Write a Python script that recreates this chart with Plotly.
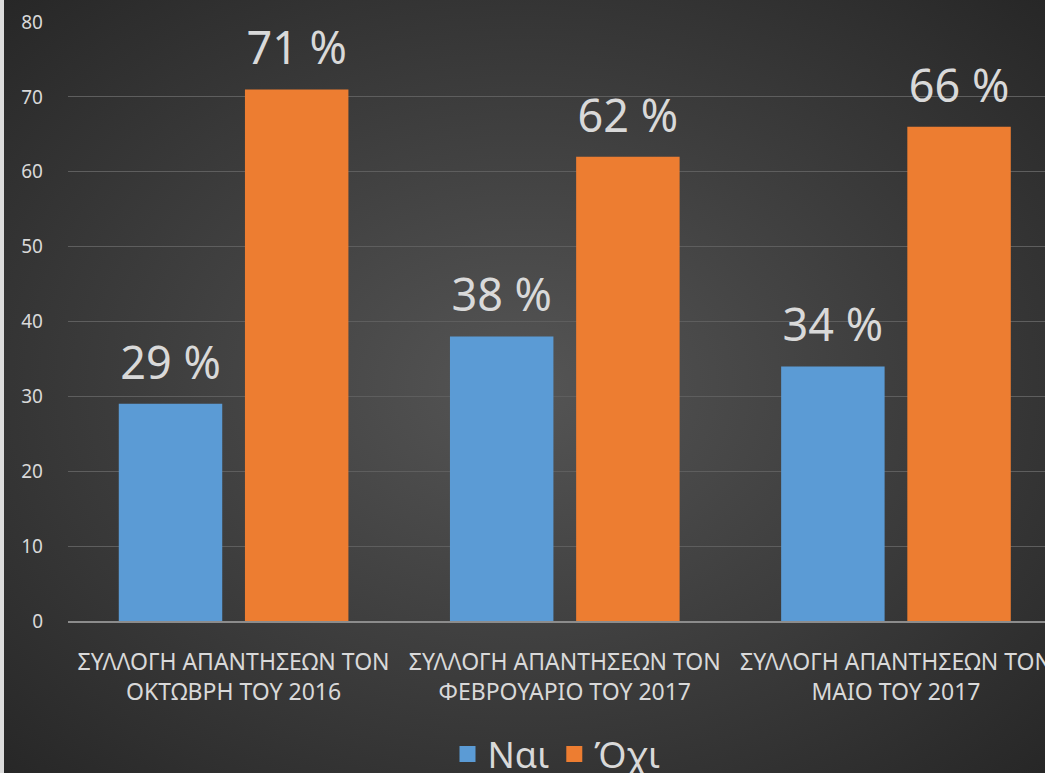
import base64
import plotly.graph_objects as go

categories = [
    "ΣΥΛΛΟΓΗ ΑΠΑΝΤΗΣΕΩΝ ΤΟΝ<br>ΟΚΤΩΒΡΗ ΤΟΥ 2016",
    "ΣΥΛΛΟΓΗ ΑΠΑΝΤΗΣΕΩΝ ΤΟΝ<br>ΦΕΒΡΟΥΑΡΙΟ ΤΟΥ 2017",
    "ΣΥΛΛΟΓΗ ΑΠΑΝΤΗΣΕΩΝ ΤΟΝ<br>ΜΑΙΟ ΤΟΥ 2017",
]
yes_values = [29, 38, 34]
no_values = [71, 62, 66]
yes_name = "Ναι"
no_name = "Όχι"
y_ticks = [0, 10, 20, 30, 40, 50, 60, 70, 80]

W, H = 1045, 773
ML, MR, MT, MB = 68, 0, 22, 152
PW, PH = W - ML - MR, H - MT - MB

bg_svg = f'''<svg xmlns="http://www.w3.org/2000/svg" width="{W}" height="{H}" viewBox="0 0 {W} {H}">
<defs><radialGradient id="g" cx="0.5" cy="0.5" r="0.72">
<stop offset="0" stop-color="#555555"/><stop offset="1" stop-color="#262626"/>
</radialGradient></defs>
<rect x="0" y="0" width="{W}" height="{H}" fill="url(#g)"/>
<rect x="0" y="0" width="4" height="{H}" fill="#dcdcdc"/>
</svg>'''
bg_uri = "data:image/svg+xml;base64," + base64.b64encode(bg_svg.encode("utf-8")).decode()

FONT = "Noto Sans"
TXT = "#d9d9d9"
BLUE = "#5B9BD5"
ORANGE = "#ED7D31"


def label(v):
    return (f"<span style='font-size:45px'>{v} %</span><br>"
            "<span style='color:rgba(0,0,0,0)'>.</span>")


fig = go.Figure()
for name, vals, col in [(yes_name, yes_values, BLUE), (no_name, no_values, ORANGE)]:
    fig.add_trace(go.Bar(
        x=categories, y=vals, name=name, legendgroup=name, showlegend=False,
        marker=dict(color=col, line=dict(width=0)),
        text=[label(v) for v in vals], textposition="outside", constraintext="none",
        textfont=dict(size=14, color=TXT, family=FONT), cliponaxis=False,
    ))
for name, col in [(yes_name, BLUE), (no_name, ORANGE)]:
    fig.add_trace(go.Scatter(
        x=[None], y=[None], mode="markers", name=name, legendgroup=name, showlegend=True,
        marker=dict(symbol="square", size=16, color=col),
    ))

fig.update_layout(
    width=W, height=H,
    margin=dict(l=ML, r=MR, t=MT, b=MB, pad=0, autoexpand=False),
    paper_bgcolor="#2e2e2e",
    plot_bgcolor="rgba(0,0,0,0)",
    font=dict(family=FONT, color=TXT),
    barmode="group", bargap=0.238, bargroupgap=0.18,
    showlegend=True,
    legend=dict(orientation="h", x=0.5, xanchor="center", y=-0.222, yanchor="middle",
                font=dict(size=36, color=TXT, family=FONT), bgcolor="rgba(0,0,0,0)",
                itemwidth=30, traceorder="normal"),
    images=[dict(source=bg_uri, xref="paper", yref="paper",
                 x=-ML / PW, y=1 + MT / PH, sizex=W / PW, sizey=H / PH,
                 xanchor="left", yanchor="top", sizing="stretch", layer="below")],
)
fig.update_yaxes(range=[0, 80], tickvals=y_ticks, showgrid=True, gridcolor="#5e5e5e", gridwidth=1,
                 zeroline=False, showline=False, ticks="",
                 tickfont=dict(size=19, color=TXT, family=FONT), ticklabelstandoff=24)
fig.update_xaxes(range=[-0.5, 2.45], showgrid=False, showline=True, linecolor="#8c8c8c", linewidth=2,
                 ticks="", tickfont=dict(size=23, color=TXT, family=FONT), ticklabelstandoff=19,
                 tickangle=0)

fig.write_html("out.html", config={"displayModeBar": False},
               post_script="document.body.style.margin='0';")
